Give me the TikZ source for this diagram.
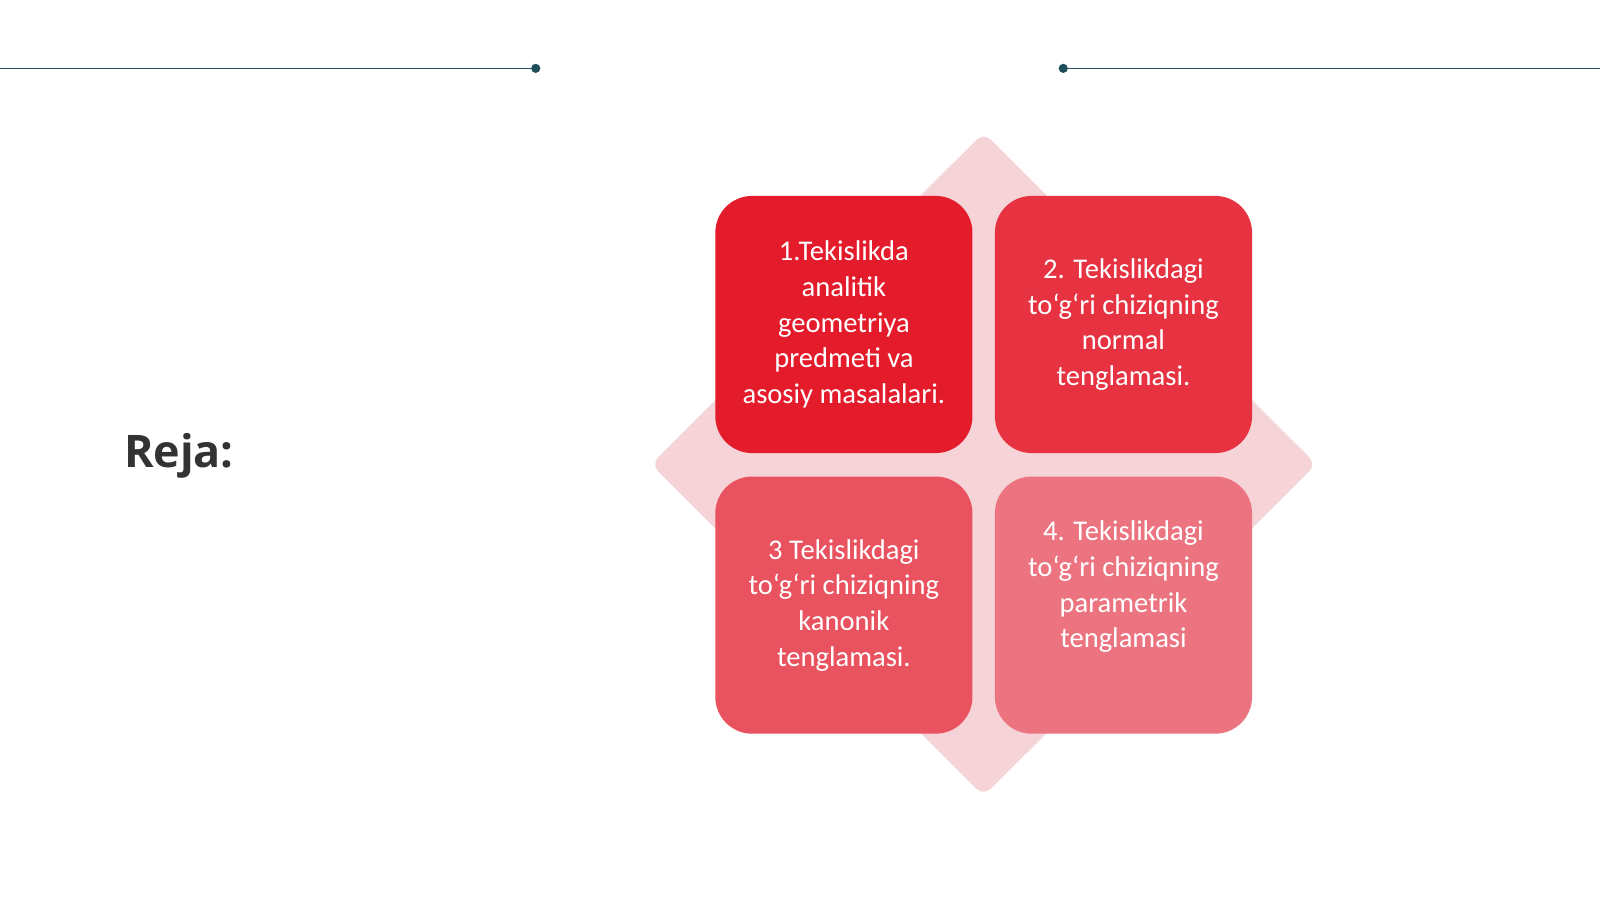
\documentclass[tikz,border=0pt]{standalone}
\usepackage{fontspec}
\setmainfont{Carlito}
\newfontfamily\osans{Open Sans}
\definecolor{teal}{HTML}{1F4E5A}
\definecolor{dia}{HTML}{F6D3D6}
\definecolor{cA}{HTML}{E31B2B}
\definecolor{cB}{HTML}{E63241}
\definecolor{cC}{HTML}{E9525F}
\definecolor{cD}{HTML}{EC7480}
\begin{document}
\begin{tikzpicture}[x=1pt,y=-1pt,
  box/.style={rounded corners=36pt,minimum width=252pt,minimum height=252pt,inner sep=0pt,
    align=center,text=white,font=\fontsize{28}{35}\selectfont},
  dot/.style={circle,fill=teal,inner sep=0pt,minimum size=9pt}]
\useasboundingbox (0,0) rectangle (1568,881);
\fill[white] (0,0) rectangle (1568,881);
\node[dot] (d1) at (525,67) {};
\node[dot] (d2) at (1042,67) {};
\coordinate (l0) at (0,67);
\coordinate (r0) at (1568,67);
\draw[teal,line width=1.2pt] (l0) -- (d1);
\draw[teal,line width=1.2pt] (d2) -- (r0);
\fill[dia,rounded corners=10pt] (964,130) -- (1290,455) -- (964,780) -- (638,455) -- cycle;
\node[box,fill=cA] (b1) at (827,318) {1.Tekislikda\\analitik\\geometriya\\predmeti va\\asosiy masalalari.};
\node[box,fill=cB] (b2) at (1101,318) {2. Tekislikdagi\\to‘g‘ri chiziqning\\normal\\tenglamasi.};
\node[box,fill=cC] (b3) at (827,593) {3 Tekislikdagi\\to‘g‘ri chiziqning\\kanonik\\tenglamasi.};
\node[box,fill=cD] (b4) at (1101,593) {};
\node[align=center,text=white,font=\fontsize{28}{35}\selectfont] (t4) at (1101,575) {4. Tekislikdagi\\to‘g‘ri chiziqning\\parametrik\\tenglamasi};
\node[anchor=west,text=black!80,font=\osans\bfseries\fontsize{44}{50}\selectfont] (reja) at (118,447) {Reja:};
\end{tikzpicture}
\end{document}
